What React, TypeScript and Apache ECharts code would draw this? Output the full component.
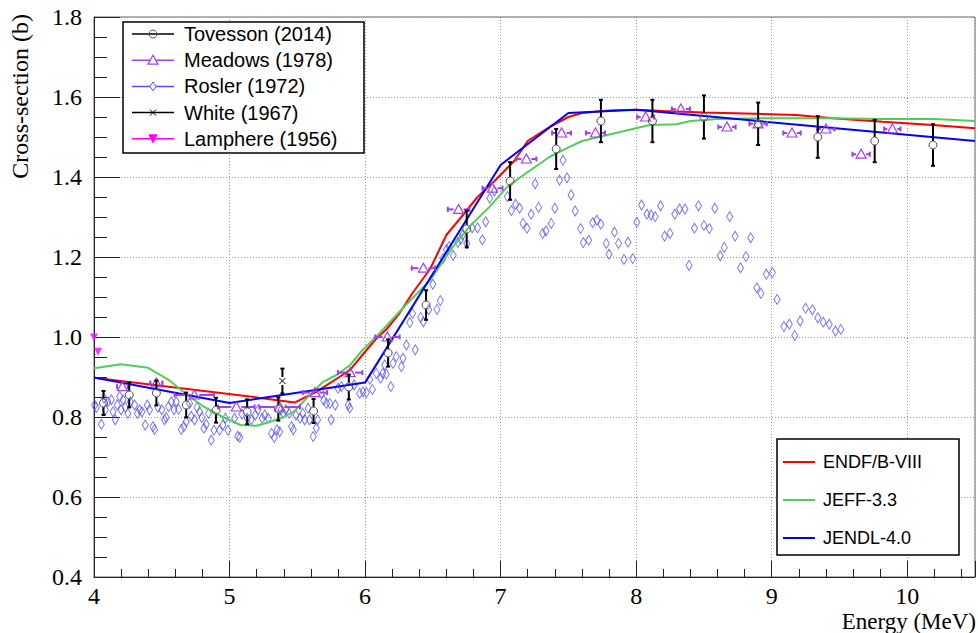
import { useEffect, useRef } from 'react';
import * as echarts from 'echarts';

// ---------------- data ----------------
const X_MIN = 4;
const X_MAX = 10.5;
const Y_MIN = 0.4;
const Y_MAX = 1.8;

const X_TITLE = 'Energy (MeV)';
const Y_TITLE = 'Cross-section (b)';

// evaluated curves [energy, cross-section]
const endfCurve = [
  [4.0, 0.898], [5.2, 0.849], [5.48, 0.836], [5.64, 0.863], [5.81, 0.9], [5.89, 0.918],
  [5.98, 0.955], [6.08, 0.995], [6.16, 1.02], [6.255, 1.06], [6.35, 1.11], [6.48, 1.17],
  [6.6, 1.255], [6.71, 1.3], [6.83, 1.35], [6.955, 1.39], [7.1, 1.44], [7.2, 1.49],
  [7.36, 1.525], [7.5, 1.55], [7.6, 1.56], [7.8, 1.566], [8.0, 1.568], [8.2, 1.565],
  [8.5, 1.561], [8.8, 1.559], [9.18, 1.555], [9.45, 1.547], [9.82, 1.538], [10.19, 1.53],
  [10.5, 1.522],
];
const jeffCurve = [
  [4.0, 0.922], [4.2, 0.932], [4.4, 0.923], [4.55, 0.893], [4.67, 0.86], [4.8, 0.828],
  [4.95, 0.8], [5.08, 0.78], [5.2, 0.778], [5.3, 0.788], [5.4, 0.8], [5.48, 0.815],
  [5.58, 0.851], [5.69, 0.888], [5.79, 0.905], [5.89, 0.93], [5.98, 0.967], [6.1, 1.007],
  [6.3, 1.08], [6.48, 1.142], [6.65, 1.226], [6.77, 1.276], [6.92, 1.326], [7.05, 1.376],
  [7.19, 1.41], [7.36, 1.45], [7.46, 1.467], [7.6, 1.49], [7.85, 1.51], [8.1, 1.53],
  [8.3, 1.532], [8.4, 1.54], [8.6, 1.545], [9.0, 1.547], [9.45, 1.547], [9.8, 1.545],
  [10.2, 1.545], [10.5, 1.54],
];
const jendlCurve = [
  [4.0, 0.899], [5.0, 0.835], [6.0, 0.886], [7.0, 1.43], [7.5, 1.56], [8.0, 1.568],
  [10.5, 1.49],
];

// Tovesson (2014): [energy, sigma, dsigma]
const tovesson = [
  [4.07, 0.835, 0.03], [4.26, 0.855, 0.031], [4.46, 0.86, 0.031], [4.68, 0.83, 0.031],
  [4.9, 0.817, 0.031], [5.13, 0.813, 0.031], [5.36, 0.82, 0.029], [5.62, 0.815, 0.03],
  [5.88, 0.875, 0.031], [6.17, 0.96, 0.034], [6.45, 1.08, 0.037], [6.75, 1.27, 0.046],
  [7.07, 1.39, 0.047], [7.41, 1.47, 0.05], [7.74, 1.54, 0.053], [8.12, 1.54, 0.053],
  [8.5, 1.55, 0.054], [8.9, 1.533, 0.053], [9.34, 1.5, 0.052], [9.76, 1.49, 0.053],
  [10.19, 1.48, 0.052],
];

// Meadows (1978): [energy, sigma, dE]
const meadows = [
  [4.21, 0.876, 0.04], [4.46, 0.885, 0.045], [4.74, 0.855, 0.145], [5.05, 0.825, 0.135],
  [5.37, 0.825, 0.15], [5.63, 0.861, 0.09], [5.89, 0.911, 0.09], [6.165, 1.0, 0.09],
  [6.43, 1.172, 0.086], [6.69, 1.319, 0.08], [6.94, 1.372, 0.074], [7.19, 1.445, 0.074],
  [7.45, 1.51, 0.07], [7.7, 1.51, 0.07], [8.07, 1.55, 0.062], [8.33, 1.57, 0.067],
  [8.67, 1.525, 0.064], [8.9, 1.533, 0.064], [9.15, 1.51, 0.064], [9.4, 1.52, 0.064],
  [9.66, 1.457, 0.064], [9.89, 1.52, 0.06],
];

// Rosler (1972): [energy, sigma]
const rosler = [
  [4.005, 0.83], [4.017, 0.824], [4.054, 0.782], [4.074, 0.847], [4.084, 0.818], [4.103, 0.838],
  [4.128, 0.843], [4.14, 0.813], [4.157, 0.793], [4.172, 0.83], [4.19, 0.851], [4.2, 0.818],
  [4.214, 0.843], [4.231, 0.824], [4.25, 0.809], [4.268, 0.838], [4.3, 0.83], [4.32, 0.809],
  [4.337, 0.818], [4.354, 0.813], [4.378, 0.78], [4.393, 0.83], [4.41, 0.818], [4.435, 0.776],
  [4.447, 0.769], [4.472, 0.824], [4.5, 0.818], [4.52, 0.793], [4.533, 0.799], [4.55, 0.826],
  [4.57, 0.838], [4.59, 0.818], [4.607, 0.838], [4.624, 0.819], [4.644, 0.769], [4.663, 0.776],
  [4.68, 0.788], [4.705, 0.834], [4.717, 0.802], [4.742, 0.793], [4.76, 0.824], [4.779, 0.813],
  [4.796, 0.799], [4.811, 0.772], [4.828, 0.782], [4.845, 0.809], [4.865, 0.742], [4.885, 0.767],
  [4.926, 0.767], [4.951, 0.78], [4.97, 0.797], [4.988, 0.767], [5.037, 0.797], [5.061, 0.752],
  [5.076, 0.749], [5.091, 0.807], [5.13, 0.797],
  [5.16, 0.793], [5.19, 0.805], [5.21, 0.818], [5.24, 0.797], [5.26, 0.805], [5.285, 0.797],
  [5.31, 0.759], [5.33, 0.749], [5.35, 0.768], [5.37, 0.763], [5.38, 0.818], [5.395, 0.809],
  [5.415, 0.818], [5.44, 0.809], [5.457, 0.776], [5.47, 0.768], [5.49, 0.805], [5.52, 0.797],
  [5.54, 0.809], [5.555, 0.793], [5.58, 0.822], [5.59, 0.793], [5.617, 0.751], [5.64, 0.772],
  [5.65, 0.793], [5.68, 0.859], [5.695, 0.842], [5.715, 0.834], [5.74, 0.834], [5.75, 0.793],
  [5.78, 0.83], [5.8, 0.872], [5.825, 0.876], [5.875, 0.83], [5.887, 0.822], [5.92, 0.88],
  [5.96, 0.859], [5.985, 0.863], [6.01, 0.861], [6.035, 0.894], [6.054, 0.869], [6.083, 0.909],
  [6.115, 0.897], [6.13, 0.909], [6.145, 0.93], [6.157, 0.907], [6.19, 0.876], [6.206, 0.934],
  [6.23, 0.951], [6.268, 0.926], [6.28, 0.947], [6.305, 0.98], [6.37, 0.968],
  [6.33, 1.036], [6.35, 1.059], [6.41, 1.049], [6.43, 1.038], [6.47, 1.068], [6.5, 1.132],
  [6.53, 1.069], [6.555, 1.091], [6.575, 1.196], [6.6, 1.218], [6.62, 1.226], [6.65, 1.204],
  [6.685, 1.236], [6.705, 1.244], [6.72, 1.255], [6.75, 1.234], [6.79, 1.273], [6.83, 1.273],
  [6.865, 1.243], [6.89, 1.288], [6.92, 1.347], [6.955, 1.365], [7.05, 1.351], [7.08, 1.316],
  [7.11, 1.332], [7.14, 1.322], [7.165, 1.284], [7.195, 1.272], [7.225, 1.307], [7.255, 1.383],
  [7.28, 1.324], [7.31, 1.259], [7.335, 1.265],
  [7.373, 1.284], [7.4, 1.322], [7.435, 1.392], [7.46, 1.442], [7.49, 1.398], [7.52, 1.355],
  [7.55, 1.315], [7.59, 1.271], [7.61, 1.236], [7.65, 1.242], [7.68, 1.286], [7.71, 1.292],
  [7.74, 1.282], [7.78, 1.234], [7.8, 1.207], [7.84, 1.262], [7.87, 1.234], [7.91, 1.194],
  [7.94, 1.237], [7.975, 1.196], [8.005, 1.287], [8.04, 1.33], [8.08, 1.307], [8.11, 1.305],
  [8.14, 1.301], [8.18, 1.328], [8.21, 1.252], [8.25, 1.259], [8.285, 1.307], [8.32, 1.32],
  [8.36, 1.32], [8.39, 1.179], [8.43, 1.272], [8.46, 1.328], [8.5, 1.279], [8.54, 1.271],
  [8.58, 1.322], [8.62, 1.203], [8.65, 1.224], [8.69, 1.301], [8.73, 1.252], [8.77, 1.173],
  [8.81, 1.201], [8.845, 1.248], [8.89, 1.123], [8.92, 1.109], [8.96, 1.157], [9.005, 1.161],
  [9.04, 1.094], [9.09, 1.026], [9.13, 1.032], [9.17, 1.004], [9.21, 1.04], [9.25, 1.072],
  [9.3, 1.068], [9.34, 1.048], [9.38, 1.037], [9.425, 1.032], [9.47, 1.015], [9.51, 1.019],
];

// White (1967): [energy, sigma, dsigma]
const white = [[5.39, 0.89, 0.031]];

// Lamphere (1956): [energy, sigma]
const lamphere = [[4.0, 0.999], [4.03, 0.963]];

const expLegendNames = ['Tovesson (2014)', 'Meadows (1978)', 'Rosler (1972)', 'White (1967)', 'Lamphere (1956)'];
const evalLegendNames = ['ENDF/B-VIII', 'JEFF-3.3', 'JENDL-4.0'];

// ---------------- styles ----------------
const SERIF = '"Liberation Serif", "Times New Roman", Times, serif';
const SANS = '"Liberation Sans", Arial, Helvetica, sans-serif';
const C_RED = '#ff0000';
const C_GREEN = '#55cc55';
const C_BLUE = '#0000ff';
const C_MEAD = '#a040f0';
const C_ROSL = '#4f4fff';
const C_LAMP = '#ff00ff';
const C_TOV = '#000000';

function markerShapes(kind: string, cx: number, cy: number, color: string): any[] {
  if (kind === 'circle') {
    return [{ type: 'circle', shape: { cx, cy, r: 4 }, style: { fill: 'none', stroke: '#555', lineWidth: 1 } }];
  }
  if (kind === 'triangle') {
    return [{ type: 'polygon', shape: { points: [[cx - 5, cy + 4], [cx + 5, cy + 4], [cx, cy - 5]] }, style: { fill: '#fff', stroke: color, lineWidth: 1.2 } }];
  }
  if (kind === 'diamond') {
    return [{ type: 'polygon', shape: { points: [[cx, cy - 4.5], [cx + 3, cy], [cx, cy + 4.5], [cx - 3, cy]] }, style: { fill: '#fff', stroke: color, lineWidth: 1 } }];
  }
  if (kind === 'cross') {
    return [
      { type: 'line', shape: { x1: cx - 3, y1: cy - 3, x2: cx + 3, y2: cy + 3 }, style: { stroke: color, lineWidth: 1 } },
      { type: 'line', shape: { x1: cx - 3, y1: cy + 3, x2: cx + 3, y2: cy - 3 }, style: { stroke: color, lineWidth: 1 } },
    ];
  }
  // filled down triangle
  return [{ type: 'polygon', shape: { points: [[cx - 4, cy - 4], [cx + 4, cy - 4], [cx, cy + 4]] }, style: { fill: color, stroke: color, lineWidth: 1 } }];
}

function buildLegendGraphics(): any[] {
  const els: any[] = [];
  // experimental legend
  const ax = 123, ay = 22, aw = 241, ah = 131;
  els.push({ type: 'rect', shape: { x: ax, y: ay, width: aw, height: ah }, style: { fill: '#fff', stroke: '#000', lineWidth: 1.5 }, z: 100 });
  const kinds = ['circle', 'triangle', 'diamond', 'cross', 'down'];
  const colors = [C_TOV, C_MEAD, C_ROSL, C_TOV, C_LAMP];
  expLegendNames.forEach((name, i) => {
    const y = 34 + i * 26.2;
    els.push({ type: 'line', shape: { x1: 132, y1: y, x2: 174, y2: y }, style: { stroke: colors[i], lineWidth: 1.5 }, z: 101 });
    markerShapes(kinds[i], 153, y, colors[i]).forEach((m) => els.push({ ...m, z: 102 }));
    els.push({ type: 'text', x: 184, y, style: { text: name, fontFamily: SANS, fontSize: 20, fill: '#000', align: 'left', verticalAlign: 'middle' }, z: 102 });
  });
  // evaluation legend
  const bx = 777, by = 439, bw = 182, bh = 116;
  els.push({ type: 'rect', shape: { x: bx, y: by, width: bw, height: bh }, style: { fill: '#fff', stroke: '#000', lineWidth: 1.5 }, z: 100 });
  const ecol = [C_RED, C_GREEN, C_BLUE];
  evalLegendNames.forEach((name, i) => {
    const y = 462 + i * 38;
    els.push({ type: 'line', shape: { x1: 783, y1: y, x2: 815, y2: y }, style: { stroke: ecol[i], lineWidth: 2 }, z: 101 });
    els.push({ type: 'text', x: 823, y, style: { text: name, fontFamily: SANS, fontSize: 18, fill: '#000', align: 'left', verticalAlign: 'middle' }, z: 102 });
  });
  // axis titles
  els.push({ type: 'text', x: 20, y: 14, rotation: Math.PI / 2, style: { text: Y_TITLE, fontFamily: SERIF, fontSize: 24, fill: '#000', align: 'right', verticalAlign: 'middle' }, z: 102 });
  els.push({ type: 'text', x: 976, y: 621.5, style: { text: X_TITLE, fontFamily: SERIF, fontSize: 23, fill: '#000', align: 'right', verticalAlign: 'middle' }, z: 102 });
  return els;
}

function vErrRender(color: string, kind: string) {
  return (params: any, api: any) => {
    const x = api.value(0), y = api.value(1), e = api.value(2);
    const c = api.coord([x, y]);
    const t = api.coord([x, y + e]);
    const b = api.coord([x, y - e]);
    const s = { stroke: '#000', lineWidth: 2 };
    const gap = 4;
    const children: any[] = [];
    if (c[1] - gap > t[1]) children.push({ type: 'line', shape: { x1: c[0], y1: t[1], x2: c[0], y2: c[1] - gap }, style: s });
    if (c[1] + gap < b[1]) children.push({ type: 'line', shape: { x1: c[0], y1: c[1] + gap, x2: c[0], y2: b[1] }, style: s });
    children.push({ type: 'line', shape: { x1: c[0] - 2, y1: t[1], x2: c[0] + 2, y2: t[1] }, style: s });
    children.push({ type: 'line', shape: { x1: c[0] - 2, y1: b[1], x2: c[0] + 2, y2: b[1] }, style: s });
    markerShapes(kind, c[0], c[1], color).forEach((m) => {
      if (m.style && m.style.fill === '#fff') m.style.fill = 'none';
      children.push(m);
    });
    return { type: 'group', children };
  };
}

function hErrRender(params: any, api: any) {
  const x = api.value(0), y = api.value(1), e = api.value(2);
  const c = api.coord([x, y]);
  const l = api.coord([x - e, y]);
  const r = api.coord([x + e, y]);
  const s = { stroke: C_MEAD, lineWidth: 2 };
  const gap = 5;
  const children: any[] = [];
  if (c[0] - gap > l[0]) children.push({ type: 'line', shape: { x1: l[0], y1: c[1], x2: c[0] - gap, y2: c[1] }, style: s });
  if (c[0] + gap < r[0]) children.push({ type: 'line', shape: { x1: c[0] + gap, y1: c[1], x2: r[0], y2: c[1] }, style: s });
  children.push({ type: 'line', shape: { x1: l[0], y1: c[1] - 2.5, x2: l[0], y2: c[1] + 2.5 }, style: s });
  children.push({ type: 'line', shape: { x1: r[0], y1: c[1] - 2.5, x2: r[0], y2: c[1] + 2.5 }, style: s });
  children.push({ type: 'polygon', shape: { points: [[c[0] - 5, c[1] + 4], [c[0] + 5, c[1] + 4], [c[0], c[1] - 5]] }, style: { fill: 'none', stroke: C_MEAD, lineWidth: 1.2 } });
  return { type: 'group', children };
}

export default function App() {
  const ref = useRef<HTMLDivElement>(null);
  useEffect(() => {
    if (!ref.current) return;
    const chart = echarts.init(ref.current, undefined, { renderer: 'svg' });
    const axisCol = '#222';
    const gridLine = { show: true, lineStyle: { color: '#999', width: 1, type: [1, 2] as any } };
    const option: any = {
      animation: false,
      backgroundColor: '#fff',
      grid: { left: 94, top: 17, width: 882, height: 560, show: true, borderColor: '#666', borderWidth: 1, backgroundColor: 'transparent' },
      xAxis: [
        {
          type: 'value', min: X_MIN, max: X_MAX, interval: 1,
          axisLine: { show: true, onZero: false, lineStyle: { color: axisCol, width: 1 } },
          axisTick: { show: true, inside: true, length: 16, lineStyle: { color: axisCol } },
          axisLabel: { margin: 7, fontFamily: SERIF, fontSize: 24, color: '#000', formatter: (v: number) => (Number.isInteger(v) ? String(v) : '') },
          splitLine: gridLine,
        },
        {
          type: 'value', min: X_MIN, max: X_MAX, interval: 0.2, position: 'bottom',
          axisLine: { show: false },
          axisTick: { show: true, inside: true, length: 8, lineStyle: { color: axisCol } },
          axisLabel: { show: false },
          splitLine: { show: false },
        },
      ],
      yAxis: {
        type: 'value', min: Y_MIN, max: Y_MAX, interval: 0.2,
        axisLine: { show: true, onZero: false, lineStyle: { color: axisCol, width: 1 } },
        axisTick: { show: true, inside: true, length: 26, lineStyle: { color: axisCol } },
        minorTick: { show: true, splitNumber: 4, length: 13, lineStyle: { color: axisCol } },
        axisLabel: { margin: 12, fontFamily: SERIF, fontSize: 24, color: '#000', formatter: (v: number) => v.toFixed(1) },
        splitLine: gridLine,
      },
      series: [
        {
          name: 'Rosler (1972)', type: 'scatter', data: rosler, symbol: 'diamond', symbolSize: [6, 10],
          itemStyle: { color: 'rgba(255,255,255,0)', borderColor: C_ROSL, borderWidth: 1 }, z: 2, silent: true,
        },
        { name: 'ENDF/B-VIII', type: 'line', data: endfCurve, symbol: 'none', lineStyle: { color: C_RED, width: 2 }, z: 3, silent: true },
        { name: 'JEFF-3.3', type: 'line', data: jeffCurve, symbol: 'none', lineStyle: { color: C_GREEN, width: 2 }, z: 3, silent: true },
        { name: 'JENDL-4.0', type: 'line', data: jendlCurve, symbol: 'none', lineStyle: { color: C_BLUE, width: 2 }, z: 3, silent: true },
        {
          name: 'Lamphere (1956)', type: 'scatter', data: lamphere, symbol: 'triangle', symbolRotate: 180, symbolSize: [8, 8],
          itemStyle: { color: C_LAMP }, z: 4, silent: true,
        },
        { name: 'Meadows (1978)', type: 'custom', data: meadows, renderItem: hErrRender, encode: { x: 0, y: 1 }, z: 5, silent: true },
        { name: 'Tovesson (2014)', type: 'custom', data: tovesson, renderItem: vErrRender(C_TOV, 'circle'), encode: { x: 0, y: 1 }, z: 6, silent: true },
        { name: 'White (1967)', type: 'custom', data: white, renderItem: vErrRender(C_TOV, 'cross'), encode: { x: 0, y: 1 }, z: 6, silent: true },
      ],
      graphic: buildLegendGraphics(),
    };
    chart.setOption(option);
    return () => chart.dispose();
  }, []);
  return <div ref={ref} style={{ position: 'fixed', left: 0, top: 0, width: 978, height: 633, background: '#fff' }} />;
}
